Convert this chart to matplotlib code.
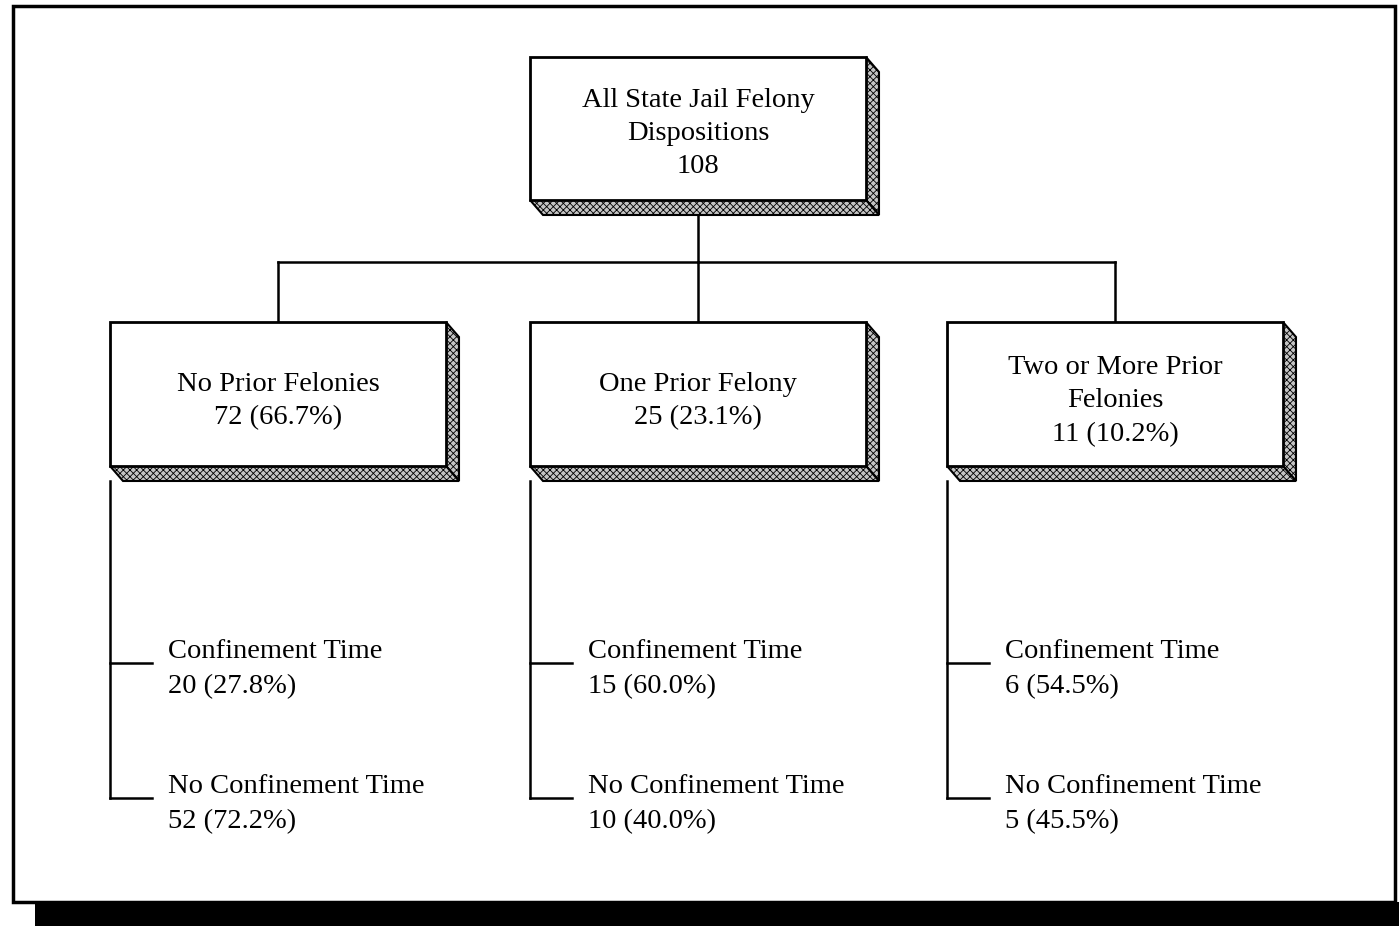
import matplotlib.pyplot as plt
from matplotlib.patches import Polygon, Rectangle

plt.rcParams['font.family'] = ['Liberation Serif', 'DejaVu Serif']
plt.rcParams['hatch.linewidth'] = 0.6

# data
root_label = "All State Jail Felony\nDispositions"
root_total = 108
groups = ["No Prior Felonies", "One Prior Felony", "Two or More Prior\nFelonies"]
group_n = [72, 25, 11]
group_pct = [66.7, 23.1, 10.2]
conf_n = [20, 15, 6]
conf_pct = [27.8, 60.0, 54.5]
noconf_n = [52, 10, 5]
noconf_pct = [72.2, 40.0, 45.5]

# layout (pixel units, y down)
W, H = 1399, 926
depth_x, depth_y = 13, 15
group_x = [110, 530, 947]
box_w = 336
fs = 20.5
ls = 1.45

fig = plt.figure(figsize=(W / 100, H / 100), dpi=100)
ax = fig.add_axes([0, 0, 1, 1])
ax.set_xlim(0, W)
ax.set_ylim(H, 0)
ax.axis('off')


def box3d(x, y, w, h):
    # front face plus extruded right and bottom faces
    side = Polygon([(x + w, y), (x + w + depth_x, y + depth_y),
                    (x + w + depth_x, y + h + depth_y), (x + w, y + h)],
                   closed=True, facecolor='#c4c4c4', edgecolor='black',
                   lw=1.5, hatch='xxxxx', zorder=2)
    bot = Polygon([(x, y + h), (x + w, y + h),
                   (x + w + depth_x, y + h + depth_y), (x + depth_x, y + h + depth_y)],
                  closed=True, facecolor='#c4c4c4', edgecolor='black',
                  lw=1.5, hatch='xxxxx', zorder=2)
    front = Rectangle((x, y), w, h, facecolor='white', edgecolor='black',
                      lw=2, zorder=3)
    for p in (side, bot, front):
        ax.add_patch(p)


# outer frame and dark band underneath
ax.add_patch(Rectangle((13, 6), 1382, 896, facecolor='white', edgecolor='black', lw=2.5, zorder=0))
ax.add_patch(Rectangle((35, 902), W - 35, H - 902, facecolor='black', edgecolor='none', zorder=0))

# root box
root_x, root_y, root_h = 530, 57, 143
box3d(root_x, root_y, box_w, root_h)
ax.text(root_x + box_w / 2, root_y + root_h / 2 + 5, f"{root_label}\n{root_total}",
        ha='center', va='center', fontsize=fs, linespacing=1.4, zorder=4)

# connectors
cx = [gx + box_w / 2 for gx in group_x]
ax.plot([root_x + box_w / 2] * 2, [root_y + root_h + depth_y, 262], color='black', lw=1.8)
ax.plot([cx[0], cx[-1]], [262, 262], color='black', lw=1.8)
gy, gh = 322, 144
for c in cx:
    ax.plot([c, c], [262, gy], color='black', lw=1.8)

for i, gx in enumerate(group_x):
    box3d(gx, gy, box_w, gh)
    ax.text(gx + box_w / 2, gy + gh / 2 + 7,
            f"{groups[i]}\n{group_n[i]} ({group_pct[i]:.1f}%)",
            ha='center', va='center', fontsize=fs, linespacing=ls, zorder=4)
    # leaf branches
    ax.plot([gx, gx], [gy + gh + depth_y, 798], color='black', lw=1.8)
    for yy, lab, n, p in [(663, "Confinement Time", conf_n[i], conf_pct[i]),
                          (798, "No Confinement Time", noconf_n[i], noconf_pct[i])]:
        ax.plot([gx, gx + 42], [yy, yy], color='black', lw=1.8)
        ax.text(gx + 58, yy + 6, f"{lab}\n{n} ({p:.1f}%)", ha='left', va='center',
                fontsize=fs, linespacing=1.5)

fig.savefig('out.png', dpi=100)
